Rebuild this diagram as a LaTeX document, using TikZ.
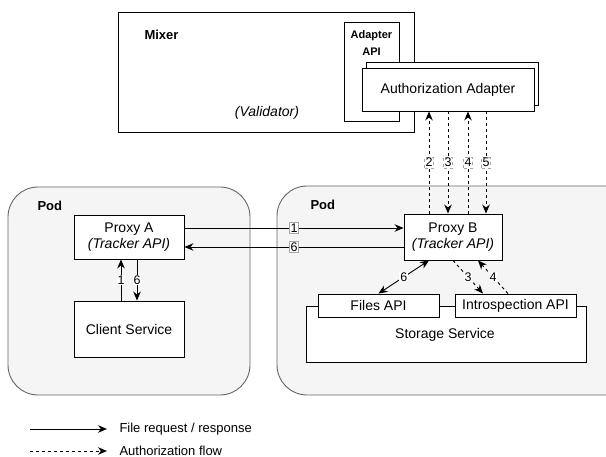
\documentclass[tikz,border=0pt]{standalone}
\usepackage{fontspec}
\setmainfont{Liberation Sans}
\usetikzlibrary{arrows.meta,calc}
\begin{document}
\begin{tikzpicture}[x=1pt,y=-1pt,
  box/.style={draw=black,fill=white,line width=0.9pt,inner sep=0pt,align=center,font=\fontsize{14}{16}\selectfont},
  pod/.style={draw=black!60,fill=black!4,line width=0.9pt,rounded corners=30pt},
  flow/.style={line width=0.9pt,-{Stealth[length=9pt,width=7.5pt]}},
  auth/.style={flow,dash pattern=on 3pt off 3pt},
  lbl/.style={fill=white,inner sep=1pt,font=\fontsize{12.5}{13}\selectfont},
  blbl/.style={lbl,draw=black!35,line width=0.4pt},
  title/.style={font=\bfseries\fontsize{13}{15}\selectfont,anchor=west}
]
\useasboundingbox (0,0) rectangle (606,457);
% pods
\draw[pod] (8,187) rectangle (250,395);
\draw[pod] (277,186) rectangle (660,395);
\node[title] (podl) at (34,206) {Pod};
\node[title] (podr) at (307,205) {Pod};
% mixer
\node[box,minimum width=296pt,minimum height=120pt] (mixer) at (266,72) {};
\node[title] (mixt) at (141,35) {Mixer};
\node[font=\itshape\fontsize{14}{16}\selectfont] (valid) at (267,113) {(Validator)};
\node[box,minimum width=55pt,minimum height=99pt] (aapi) at (371.5,71.5) {};
\node[font=\bfseries\fontsize{11}{17}\selectfont,align=center] (aapit) at (371.5,43) {Adapter\\API};
\node[box,minimum width=172pt,minimum height=43pt] (aab) at (452,83.5) {};
\node[box,minimum width=172pt,minimum height=43pt] (aa) at (448,89.5) {Authorization Adapter};
% proxies
\node[box,minimum width=110pt,minimum height=44pt] (pa) at (129,237) {Proxy A\\\itshape(Tracker API)};
\node[box,minimum width=110pt,minimum height=56pt] (cs) at (129,329) {Client Service};
\node[box,minimum width=98pt,minimum height=46pt] (pb) at (453,237) {Proxy B\\\itshape(Tracker API)};
% storage
\node[box,minimum width=280pt,minimum height=56pt] (ss) at (446,334) {};
\node[font=\fontsize{14}{16}\selectfont] (sst) at (445,335) {Storage Service};
\node[box,minimum width=121pt,minimum height=23pt] (fa) at (378.5,305.5) {Files API};
\node[box,minimum width=121pt,minimum height=23pt] (ia) at (515.5,305.5) {Introspection API};
% file request arrows
\draw[flow] ([yshift=9pt]pa.east) -- node[blbl]{1} ([yshift=9pt]pb.west);
\draw[flow] ([yshift=-10pt]pb.west) -- node[blbl]{6} ([yshift=-10pt]pa.east);
\draw[flow] ([xshift=-8pt]cs.north) -- node[lbl]{1} ([xshift=-8pt]pa.south);
\draw[flow] ([xshift=8pt]pa.south) -- node[lbl]{6} ([xshift=8pt]cs.north);
\draw[line width=0.9pt,{Stealth[length=9pt,width=7.5pt]}-{Stealth[length=9pt,width=7.5pt]}] (fa.north) -- node[lbl,pos=0.5]{6} ([xshift=-24pt]pb.south);
% authorization arrows
\draw[auth] ([xshift=-24pt]pb.north) -- node[blbl,pos=0.5]{2} ([xshift=-19pt]aa.south);
\draw[auth] ([xshift=0pt]aa.south) -- node[blbl,pos=0.5]{3} ([xshift=-5pt]pb.north);
\draw[auth] ([xshift=15pt]pb.north) -- node[blbl,pos=0.5]{4} ([xshift=20pt]aa.south);
\draw[auth] ([xshift=38pt]aa.south) -- node[blbl,pos=0.5]{5} ([xshift=33pt]pb.north);
\draw[auth] (pb.south) -- node[lbl,pos=0.5]{3} ([xshift=-32.5pt]ia.north);
\draw[auth] ([xshift=-7.5pt]ia.north) -- node[lbl,pos=0.5]{4} ([xshift=25pt]pb.south);
% legend
\coordinate (l1a) at (30,429);
\coordinate (l1b) at (107,429);
\coordinate (l2a) at (30,451);
\coordinate (l2b) at (107,451);
\draw[flow] (l1a) -- (l1b);
\draw[auth] (l2a) -- (l2b);
\node[anchor=west,font=\fontsize{13}{15}\selectfont] (lt1) at (116,429) {File request / response};
\node[anchor=west,font=\fontsize{13}{15}\selectfont] (lt2) at (116,451) {Authorization flow};
\end{tikzpicture}
\end{document}
